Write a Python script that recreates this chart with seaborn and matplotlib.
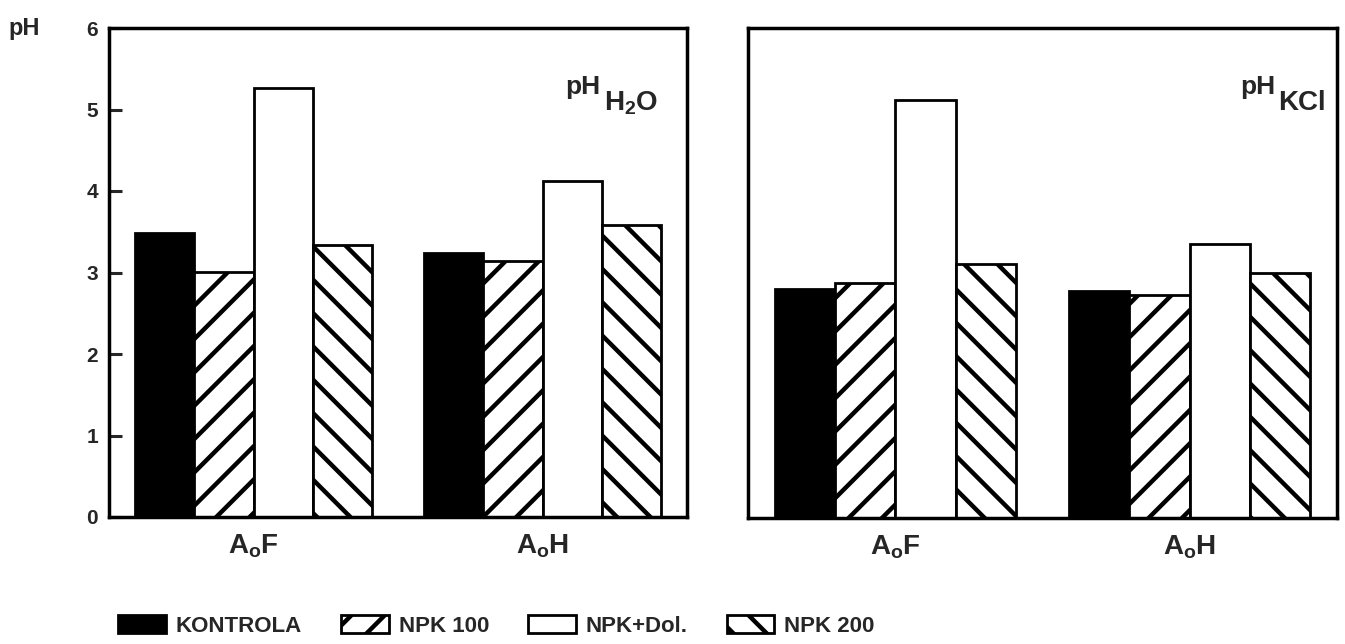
import matplotlib
matplotlib.use("Agg")
import matplotlib.pyplot as plt
import seaborn as sns
import pandas as pd
from matplotlib.patches import Patch

# ---------------- data ----------------
horizons = [r"A$_\mathregular{o}$F", r"A$_\mathregular{o}$H"]
treatments = ["KONTROLA", "NPK 100", "NPK+Dol.", "NPK 200"]

ph_h2o_aof = [3.48, 3.01, 5.26, 3.34]
ph_h2o_aoh = [3.24, 3.14, 4.12, 3.58]
ph_kcl_aof = [2.81, 2.88, 5.12, 3.11]
ph_kcl_aoh = [2.78, 2.73, 3.36, 3.00]

panel_main = ["pH", "pH"]
panel_sub = [r"H$_\mathregular{2}$O", "KCl"]
y_ticks = [0, 1, 2, 3, 4, 5, 6]

# ---------------- style ----------------
sns.set_theme(style="white")
plt.rcParams["font.family"] = ["Liberation Sans", "DejaVu Sans"]
plt.rcParams["font.weight"] = "bold"
plt.rcParams["mathtext.fontset"] = "custom"
plt.rcParams["mathtext.rm"] = "Liberation Sans:bold"
plt.rcParams["mathtext.bf"] = "Liberation Sans:bold"
plt.rcParams["mathtext.default"] = "regular"
plt.rcParams["hatch.linewidth"] = 3.2
plt.rcParams["hatch.color"] = "black"

faces = ["black", "white", "white", "white"]
hatches = ["", "/", "", "\\"]

rows = []
for panel, (aof, aoh) in zip(["H2O", "KCl"], [(ph_h2o_aof, ph_h2o_aoh), (ph_kcl_aof, ph_kcl_aoh)]):
    for h, vals in zip(horizons, [aof, aoh]):
        for t, v in zip(treatments, vals):
            rows.append({"panel": panel, "horizon": h, "treatment": t, "pH": v})
df = pd.DataFrame(rows)

fig = plt.figure(figsize=(13.45, 6.44), dpi=100)
ax1 = fig.add_axes([109 / 1345, 1 - 517 / 644, 578 / 1345, 489 / 644])
ax2 = fig.add_axes([748 / 1345, 1 - 518 / 644, 589 / 1345, 490 / 644])

for i, (ax, panel) in enumerate(zip([ax1, ax2], ["H2O", "KCl"])):
    sub = df[df["panel"] == panel]
    sns.barplot(data=sub, x="horizon", y="pH", hue="treatment",
                order=horizons, hue_order=treatments,
                palette=["white"] * 4, saturation=1, width=0.82,
                edgecolor="black", linewidth=2.0, legend=False, ax=ax)
    for cont, fc, ht in zip(ax.containers, faces, hatches):
        for bar in cont:
            bar.set_facecolor(fc)
            bar.set_hatch(ht)
            bar.set_edgecolor("black")
    ax.set_ylim(0, 6)
    ax.set_xlim(-0.5, 1.5)
    ax.set_xlabel("")
    ax.set_ylabel("")
    for s in ax.spines.values():
        s.set_linewidth(2.5)
        s.set_color("black")
    ax.tick_params(axis="x", length=0, labelsize=20, pad=11)
    if i == 0:
        ax.set_yticks(y_ticks)
        ax.tick_params(axis="y", direction="in", length=9, width=2.2,
                       labelsize=15, pad=8, left=True)
    else:
        ax.set_yticks([])
    for lab in ax.get_xticklabels():
        lab.set_fontweight("bold")
    for lab in ax.get_yticklabels():
        lab.set_fontweight("bold")

    xpos = 0.79 if i == 0 else 0.835
    t = ax.text(xpos, 0.865, panel_main[i], transform=ax.transAxes,
                fontsize=19, fontweight="bold", ha="left", va="baseline")
    ax.annotate(panel_sub[i], xy=(1, 0), xycoords=t, xytext=(2, -8),
                textcoords="offset points", fontsize=20, fontweight="bold",
                ha="left", va="baseline")

fig.text(8 / 1345, 1 - 35 / 644, "pH", fontsize=17, fontweight="bold",
         ha="left", va="baseline")

handles = [Patch(facecolor=fc, edgecolor="black", hatch=hh, linewidth=2.0)
           for fc, hh in zip(faces, hatches)]
fig.legend(handles, treatments, loc="center left",
           bbox_to_anchor=(118 / 1345, 1 - 626 / 644), ncol=4, frameon=False,
           handlelength=2.15, handleheight=0.85,
           handletextpad=0.45, columnspacing=1.75, borderpad=0, borderaxespad=0,
           prop={"weight": "bold", "size": 16})

fig.savefig("out.png", dpi=100, facecolor="white")
